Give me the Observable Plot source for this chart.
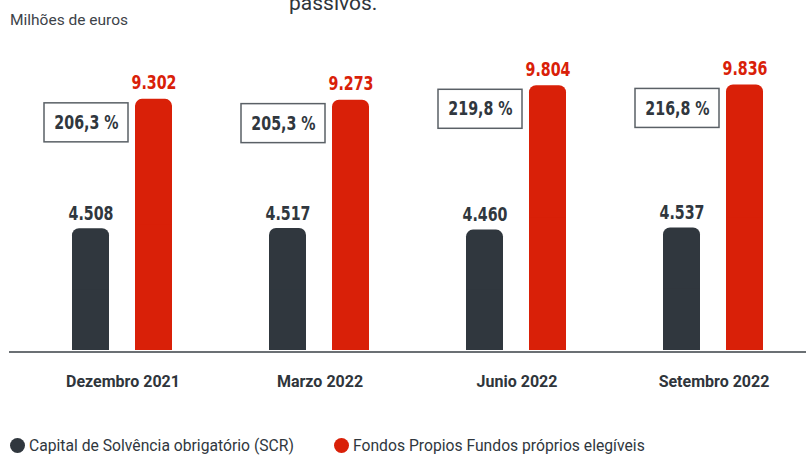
<!DOCTYPE html>
<html>
<head>
<meta charset="utf-8">
<script src="https://cdn.jsdelivr.net/npm/d3@7"></script>
<script src="https://cdn.jsdelivr.net/npm/@observablehq/plot@0.6"></script>
<style>
  html, body { margin: 0; padding: 0; background: #fff; }
  #wrap { position: relative; width: 806px; height: 455px; overflow: hidden; font-family: Roboto, sans-serif; }
  #chart { position: absolute; left: 0; top: 0; }
  #unit { position: absolute; left: 10px; top: 11px; font-size: 15.5px; color: #3d4349; }
  #cut { position: absolute; left: 289px; top: -9px; font-size: 21px; color: #2f353b; }
  .leg { position: absolute; top: 436px; font-size: 15.7px; color: #30373e; display: flex; align-items: center; white-space: nowrap; }
  .leg .dot { width: 15px; height: 15px; border-radius: 50%; margin-right: 4px; }
</style>
</head>
<body>
<div id="wrap">
  <div id="chart"></div>
  <div id="unit">Milhões de euros</div>
  <div id="cut">passivos.</div>
  <div class="leg" id="leg1" style="left:10px"></div>
  <div class="leg" id="leg2" style="left:334px"></div>
</div>
<script>
const months = ["Dezembro 2021", "Marzo 2022", "Junio 2022", "Setembro 2022"];
const scrValues = [4508, 4517, 4460, 4537];
const fundosValues = [9302, 9273, 9804, 9836];
const ratioLabels = ["206,3 %", "205,3 %", "219,8 %", "216,8 %"];
const seriesNames = ["Capital de Solvência obrigatório (SCR)", "Fondos Propios Fundos próprios elegíveis"];

const DARK = "#30373e";
const RED = "#d92008";
const condensed = "DejaVu Sans, sans-serif";

const fmt = d3.formatLocale({decimal: ",", thousands: ".", grouping: [3], currency: ["", "€"]}).format(",d");

const data = months.map((m, i) => ({month: m, scr: scrValues[i], fundos: fundosValues[i], ratio: ratioLabels[i]}));

const plot = Plot.plot({
  width: 806,
  height: 400,
  marginLeft: 9,
  marginRight: 0,
  marginTop: 80,
  marginBottom: 50,
  style: {fontFamily: "Roboto, sans-serif", background: "transparent", overflow: "visible"},
  x: {domain: months, range: [24, 812], padding: 0, axis: null, label: null},
  y: {domain: [0, 10000], axis: null},
  marks: [
    Plot.ruleY([0], {stroke: "#3a4046", strokeWidth: 1.5, dy: 1.5}),
    Plot.barY(data, {x: "month", y: "scr", fill: DARK, rx: 7, insetLeft: 48, insetRight: 112}),
    Plot.barY(data, {x: "month", y: d => d.scr / 2, fill: DARK, insetLeft: 48, insetRight: 112}),
    Plot.barY(data, {x: "month", y: "fundos", fill: RED, rx: 7, insetLeft: 111, insetRight: 49}),
    Plot.barY(data, {x: "month", y: d => d.fundos / 2, fill: RED, insetLeft: 111, insetRight: 49}),
    Plot.text(data, {x: "month", y: "scr", text: d => fmt(d.scr), dx: -32, dy: -9, lineAnchor: "bottom",
      fill: DARK, fontSize: 19, fontWeight: "bold", fontFamily: condensed}),
    Plot.text(data, {x: "month", y: "fundos", text: d => fmt(d.fundos), dx: 31, dy: -10, lineAnchor: "bottom",
      fill: RED, fontSize: 19, fontWeight: "bold", fontFamily: condensed}),
    Plot.barY(data, {x: "month", y1: "fundos", y2: "fundos", insetLeft: 20, insetRight: 93, insetTop: 4, insetBottom: -43,
      fill: "white", stroke: "#5a6066", strokeWidth: 1.5}),
    Plot.text(data, {x: "month", y: "fundos", text: "ratio", dx: -36.5, dy: 23.5, lineAnchor: "middle",
      fill: DARK, fontSize: 19, fontWeight: "bold", fontFamily: condensed}),
    Plot.axisX({tickSize: 0, tickPadding: 25, fontSize: 16, fontWeight: "bold", color: "#2f353b", label: null})
  ]
});
document.getElementById("chart").appendChild(plot);

// condense the heavy numeric labels horizontally (scale about each label's own anchor)
plot.querySelectorAll('g[font-family^="DejaVu"] text').forEach(t => {
  let tr = t.getAttribute("transform") || "";
  const x = t.getAttribute("x");
  if (x != null && isFinite(+x)) {
    tr = `translate(${+x},0) ` + tr;
    t.removeAttribute("x");
  }
  t.setAttribute("transform", (tr + " scale(0.75,1)").trim());
});

const mk = (id, color, name) => {
  const el = document.getElementById(id);
  const dot = document.createElement("span");
  dot.className = "dot";
  dot.style.background = color;
  el.appendChild(dot);
  el.appendChild(document.createTextNode(name));
};
mk("leg1", DARK, seriesNames[0]);
mk("leg2", RED, seriesNames[1]);
</script>
</body>
</html>
